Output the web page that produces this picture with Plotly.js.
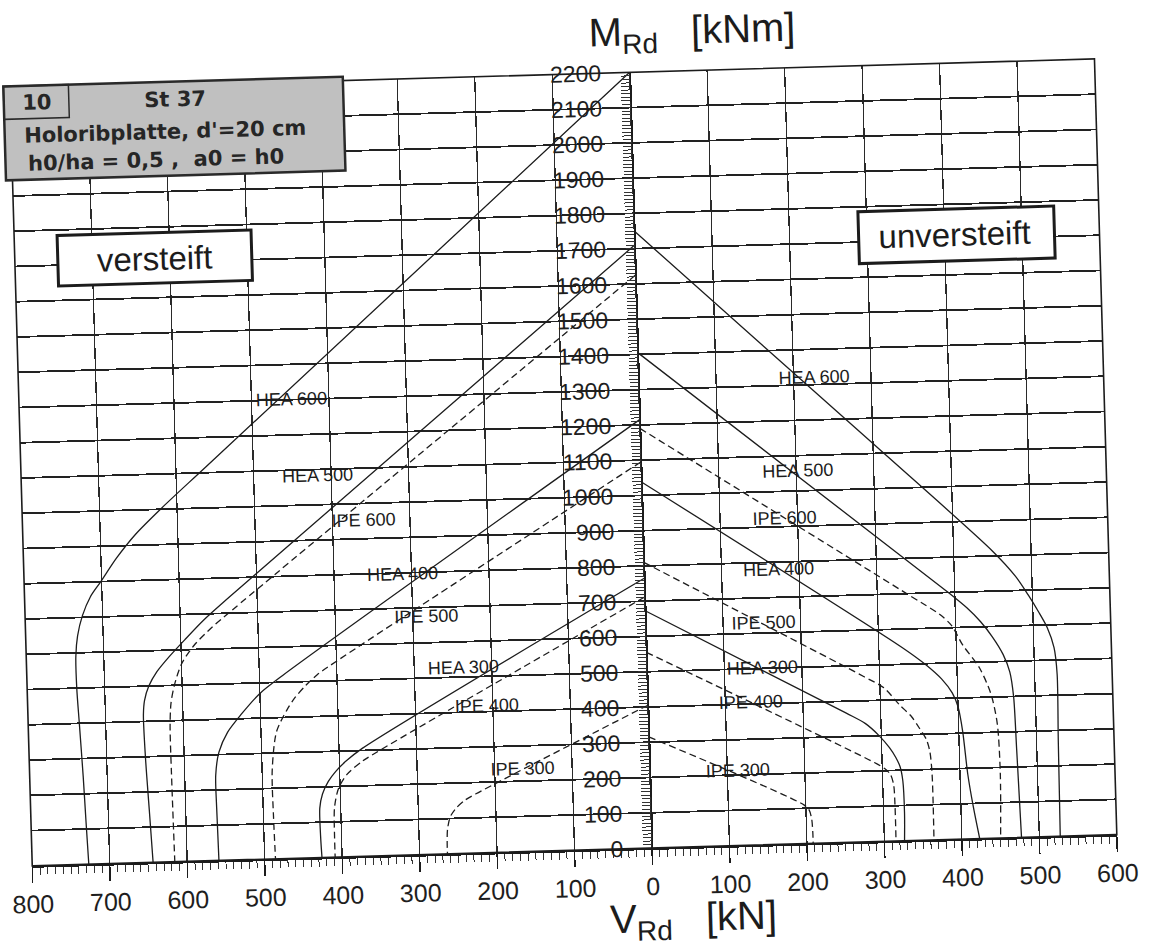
<!DOCTYPE html>
<html>
<head>
<meta charset="utf-8">
<script src="https://cdn.plot.ly/plotly-3.0.1.min.js"></script>
<style>
  html, body { margin: 0; padding: 0; background: #fff; overflow: hidden; }
  #chart { width: 1150px; height: 951px; transform: rotate(-1.65deg); transform-origin: 652px 848px; }
</style>
</head>
<body>
<div id="chart"></div>
<script>
// Interaction curves M_Rd – V_Rd, St 37, Holoribplatte d' = 20 cm, h0/ha = 0,5, a0 = h0
// V in kN (magnitude), M in kNm.  "versteift" is drawn to the left, "unversteift" to the right.

// ---- versteift (stiffened) ----
const vSt_HEA600 = [0, 560, 620, 655, 680, 701, 715, 726, 733, 736, 736, 734, 731, 729, 727];
const mSt_HEA600 = [2200, 1119, 1003, 930, 865, 800, 758, 705, 648, 590, 500, 400, 250, 120, 0];
const vSt_HEA500 = [0, 540, 570, 595, 615, 632, 643, 649, 651, 650, 647, 644];
const mSt_HEA500 = [1710, 738, 682, 628, 583, 540, 500, 460, 420, 300, 150, 0];
const vSt_IPE600 = [0, 530, 560, 583, 600, 610, 615, 617, 617, 616];
const mSt_IPE600 = [1625, 713, 660, 612, 560, 500, 450, 386, 250, 0];
const vSt_HEA400 = [0, 470, 500, 525, 543, 555, 560, 560, 559];
const mSt_HEA400 = [1215, 519, 470, 412, 363, 307, 242, 150, 0];
const vSt_IPE500 = [0, 400, 425, 440, 455, 466, 480, 487, 487, 486];
const mSt_IPE500 = [1095, 555, 519, 490, 455, 420, 360, 250, 120, 0];
const vSt_HEA300 = [0, 370, 391, 405, 415, 423, 427, 427, 426];
const mSt_HEA300 = [765, 306, 272, 243, 215, 180, 140, 60, 0];
const vSt_IPE400 = [0, 345, 370, 390, 402, 408, 409, 409];
const mSt_IPE400 = [712, 302, 270, 235, 195, 140, 60, 0];
const vSt_IPE300 = [0, 225, 240, 252, 259, 263, 264, 264];
const mSt_IPE300 = [405, 168, 150, 127, 105, 70, 30, 0];

// ---- unversteift (unstiffened) ----
const vUn_HEA600 = [0, 300, 450, 479, 495, 508, 518, 526, 529, 528, 527];
const mUn_HEA600 = [1750, 1128, 814, 740, 685, 635, 592, 535, 460, 270, 0];
const vUn_HEA500 = [0, 390, 415, 432, 447, 460, 468, 472, 474, 477];
const mUn_HEA500 = [1405, 703, 655, 615, 570, 520, 470, 400, 250, 0];
const vUn_IPE600 = [0, 340, 380, 395, 408, 429, 443, 450, 452, 450];
const mUn_IPE600 = [1190, 697, 638, 605, 551, 484, 408, 323, 181, 0];
const vUn_HEA400 = [0, 330, 360, 380, 393, 400, 405, 410, 416, 423];
const mUn_HEA400 = [1038, 548, 497, 455, 415, 375, 306, 184, 90, 0];
const vUn_IPE500 = [0, 280, 305, 324, 340, 349, 358, 362, 364, 364];
const mUn_IPE500 = [810, 468, 435, 387, 350, 319, 285, 250, 186, 0];
const vUn_HEA300 = [0, 255, 280, 297, 310, 318, 323, 326, 327, 326];
const mUn_HEA300 = [673, 367, 335, 300, 265, 236, 210, 170, 80, 0];
const vUn_IPE400 = [0, 290, 303, 310, 314, 315, 315];
const mUn_IPE400 = [555, 224, 206, 190, 160, 100, 0];
const vUn_IPE300 = [0, 198, 204, 207, 208, 208];
const mUn_IPE300 = [315, 109, 95, 70, 30, 0];

// ---- profile labels placed on the curves ----
const profiles   = ['HEA 600', 'HEA 500', 'IPE 600', 'HEA 400', 'IPE 500', 'HEA 300', 'IPE 400', 'IPE 300'];
const labelV_St  = [449, 418, 360, 311, 282, 237, 208, 164];
const labelM_St  = [1300, 1082, 953, 798, 675, 528, 417, 236];
const labelV_Un  = [227, 202, 183, 174, 152, 149, 133, 113];
const labelM_Un  = [1322, 1058, 925, 780, 630, 503, 405, 214];

// ---- axis ticks ----
const vTickVals  = [-800, -700, -600, -500, -400, -300, -200, -100, 0, 100, 200, 300, 400, 500, 600];
const vTickText  = ['800', '700', '600', '500', '400', '300', '200', '100', '0', '100', '200', '300', '400', '500', '600'];

const stiffened = [
  [vSt_HEA600, mSt_HEA600], [vSt_HEA500, mSt_HEA500], [vSt_IPE600, mSt_IPE600], [vSt_HEA400, mSt_HEA400],
  [vSt_IPE500, mSt_IPE500], [vSt_HEA300, mSt_HEA300], [vSt_IPE400, mSt_IPE400], [vSt_IPE300, mSt_IPE300]
];
const unstiffened = [
  [vUn_HEA600, mUn_HEA600], [vUn_HEA500, mUn_HEA500], [vUn_IPE600, mUn_IPE600], [vUn_HEA400, mUn_HEA400],
  [vUn_IPE500, mUn_IPE500], [vUn_HEA300, mUn_HEA300], [vUn_IPE400, mUn_IPE400], [vUn_IPE300, mUn_IPE300]
];

const ink = '#1c1c1c';
const sans = 'Liberation Sans, Arial, sans-serif';
const traces = [];
profiles.forEach((name, i) => {
  const dash = name.startsWith('IPE') ? '7px,4px' : 'solid';
  const line = { color: ink, width: 1.3, dash: dash, shape: 'spline', smoothing: 0.8 };
  traces.push({ type: 'scatter', mode: 'lines', name: name + ' versteift',
    x: stiffened[i][0].map(v => -v), y: stiffened[i][1], line: line, hoverinfo: 'skip' });
  traces.push({ type: 'scatter', mode: 'lines', name: name + ' unversteift',
    x: unstiffened[i][0], y: unstiffened[i][1], line: line, hoverinfo: 'skip' });
});

const labelFont = { family: sans, size: 18, color: ink };
const annotations = [];
profiles.forEach((name, i) => {
  annotations.push({ x: -labelV_St[i], y: labelM_St[i], xref: 'x', yref: 'y', text: name,
    xanchor: 'center', yanchor: 'middle', showarrow: false, font: labelFont });
  annotations.push({ x: labelV_Un[i], y: labelM_Un[i], xref: 'x', yref: 'y', text: name,
    xanchor: 'center', yanchor: 'middle', showarrow: false, font: labelFont });
});

function note(x, y, text, font, xanchor) {
  return { xref: 'paper', yref: 'paper', x: x, y: y, text: text, showarrow: false,
    xanchor: xanchor || 'center', yanchor: 'middle', font: font };
}
const boxFont = { family: 'DejaVu Sans, Verdana, sans-serif', size: 21, color: '#262626' };
annotations.push(
  note(0.0244, 0.983, '<b>10</b>', boxFont),
  note(0.152, 0.982, '<b>St 37</b>', boxFont),
  note(0.010, 0.9407, "<b>Holoribplatte, d'=20 cm</b>", boxFont, 'left'),
  note(0.0125, 0.904, '<b>h0/ha = 0,5 ,\u00a0\u00a0a0 = h0</b>', boxFont, 'left'),
  note(0.129, 0.7775, 'versteift', { family: sans, size: 33, color: ink }),
  note(0.866, 0.7785, 'unversteift', { family: sans, size: 33, color: ink }),
  note(0.630, 1.049, 'M<sub>Rd</sub>\u00a0\u00a0\u00a0[kNm]', { family: sans, size: 40, color: ink }),
  note(0.608, -0.094, 'V<sub>Rd</sub>\u00a0\u00a0\u00a0[kN]', { family: sans, size: 40, color: ink })
);

const shapes = [
  // plot frame
  { type: 'rect', xref: 'paper', yref: 'paper', x0: 0, x1: 1, y0: 0, y1: 1, line: { color: ink, width: 1.6 } },
  // header box
  { type: 'rect', xref: 'paper', yref: 'paper', x0: -0.006, x1: 0.307, y0: 0.884, y1: 1.005,
    fillcolor: '#c0c0c0', line: { color: '#2a2a2a', width: 2.5 } },
  { type: 'rect', xref: 'paper', yref: 'paper', x0: -0.006, x1: 0.054, y0: 0.9626, y1: 1.005,
    line: { color: '#2a2a2a', width: 1.5 } },
  // side captions
  { type: 'rect', xref: 'paper', yref: 'paper', x0: 0.0396, x1: 0.2184, y0: 0.746, y1: 0.811,
    fillcolor: '#ffffff', line: { color: ink, width: 3 } },
  { type: 'rect', xref: 'paper', yref: 'paper', x0: 0.778, x1: 0.9585, y0: 0.745, y1: 0.812,
    fillcolor: '#ffffff', line: { color: ink, width: 3 } }
];

const layout = {
  width: 1150, height: 951,
  margin: { l: 32, r: 33, t: 72, b: 103 },
  paper_bgcolor: 'rgba(0,0,0,0)', plot_bgcolor: 'rgba(0,0,0,0)',
  showlegend: false,
  font: { family: sans, color: ink },
  xaxis: {
    range: [-800, 600], tickmode: 'array', tickvals: vTickVals, ticktext: vTickText,
    showgrid: true, gridcolor: '#2a2a2a', gridwidth: 1.3, zeroline: false,
    showline: true, linecolor: ink, linewidth: 2,
    ticks: 'outside', ticklen: 15, tickwidth: 1.4, tickcolor: ink,
    minor: { tickmode: 'linear', tick0: 0, dtick: 10, ticks: 'outside', ticklen: 7, tickwidth: 1, tickcolor: '#333', showgrid: false },
    tickfont: { size: 25, color: '#1e1e1e' }, ticklabelstandoff: 0, fixedrange: true
  },
  yaxis: {
    range: [0, 2200], tickmode: 'linear', tick0: 0, dtick: 100,
    anchor: 'free', position: 800 / 1400, side: 'left',
    showgrid: true, gridcolor: '#222', gridwidth: 1.8, zeroline: false,
    showline: true, linecolor: ink, linewidth: 1.5,
    ticks: 'outside', ticklen: 9, tickwidth: 1, tickcolor: '#333',
    minor: { dtick: 10, ticks: 'outside', ticklen: 9, tickwidth: 1, tickcolor: '#333', showgrid: false },
    tickfont: { size: 23, color: '#1e1e1e' }, ticklabelstandoff: 15, fixedrange: true
  },
  yaxis2: {
    range: [0, 2200], overlaying: 'y', anchor: 'free', position: 789 / 1400, side: 'left',
    showline: true, linecolor: ink, linewidth: 1.2, showgrid: false, zeroline: false,
    showticklabels: false, ticks: '', fixedrange: true
  },
  shapes: shapes,
  annotations: annotations
};

Plotly.newPlot('chart', traces, layout, { staticPlot: true, displayModeBar: false });
</script>
</body>
</html>
